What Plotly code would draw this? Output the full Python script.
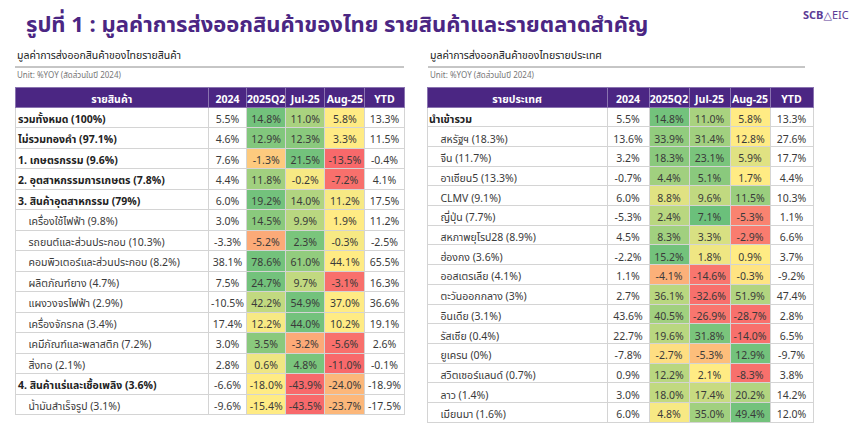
import plotly.graph_objects as go

W, H = 852, 430   # page body has an 8px margin, so the plot occupies 852x430 of the 860x438 window
OFF = 8           # reference pixel -> figure pixel offset


def px(x):
    return (x - OFF) / W


def py(y):
    return 1 - (y - OFF) / H


# ---------------- data: left table (by product) ----------------
left_labels = [
    "รวมทั้งหมด (100%)", "ไม่รวมทองคำ (97.1%)", "1. เกษตรกรรม (9.6%)",
    "2. อุตสาหกรรมการเกษตร (7.8%)", "3. สินค้าอุตสาหกรรม (79%)",
    "เครื่องใช้ไฟฟ้า (9.8%)", "รถยนต์และส่วนประกอบ (10.3%)",
    "คอมพิวเตอร์และส่วนประกอบ (8.2%)", "ผลิตภัณฑ์ยาง (4.7%)",
    "แผงวงจรไฟฟ้า (2.9%)", "เครื่องจักรกล (3.4%)",
    "เคมีภัณฑ์และพลาสติก (7.2%)", "สิ่งทอ (2.1%)",
    "4. สินค้าแร่และเชื้อเพลิง (3.6%)", "น้ำมันสำเร็จรูป (3.1%)",
]
left_2024 = [5.5, 4.6, 7.6, 4.4, 6.0, 3.0, -3.3, 38.1, 7.5, -10.5, 17.4, 3.0, 2.8, -6.6, -9.6]
left_q2 = [14.8, 12.9, -1.3, 11.8, 19.2, 14.5, -5.2, 78.6, 24.7, 42.2, 12.2, 3.5, 0.6, -18.0, -15.4]
left_jul = [11.0, 12.3, 21.5, -0.2, 14.0, 9.9, 2.3, 61.0, 9.7, 54.9, 44.0, -3.2, 4.8, -43.9, -43.5]
left_aug = [5.8, 3.3, -13.5, -7.2, 11.2, 1.9, -0.3, 44.1, -3.1, 37.0, 10.2, -5.6, -11.0, -24.0, -23.7]
left_ytd = [13.3, 11.5, -0.4, 4.1, 17.5, 11.2, -2.5, 65.5, 16.3, 36.6, 19.1, 2.6, -0.1, -18.9, -17.5]

# ---------------- data: right table (by market) ----------------
right_labels = [
    "นำเข้ารวม", "สหรัฐฯ (18.3%)", "จีน (11.7%)", "อาเซียน5 (13.3%)",
    "CLMV (9.1%)", "ญี่ปุ่น (7.7%)", "สหภาพยุโรป28 (8.9%)", "ฮ่องกง (3.6%)",
    "ออสเตรเลีย (4.1%)", "ตะวันออกกลาง (3%)", "อินเดีย (3.1%)",
    "รัสเซีย (0.4%)", "ยูเครน (0%)", "สวิตเซอร์แลนด์ (0.7%)",
    "ลาว (1.4%)", "เมียนมา (1.6%)",
]
right_2024 = [5.5, 13.6, 3.2, -0.7, 6.0, -5.3, 4.5, -2.2, 1.1, 2.7, 43.6, 22.7, -7.8, 0.9, 3.0, 6.0]
right_q2 = [14.8, 33.9, 18.3, 4.4, 8.8, 2.4, 8.3, 15.2, -4.1, 36.1, 40.5, 19.6, -2.7, 12.2, 18.0, 4.8]
right_jul = [11.0, 31.4, 23.1, 5.1, 9.6, 7.1, 3.3, 1.8, -14.6, -32.6, -26.9, 31.8, -5.3, 2.1, 17.4, 35.0]
right_aug = [5.8, 12.8, 5.9, 1.7, 11.5, -5.3, -2.9, 0.9, -0.3, 51.9, -28.7, -14.0, 12.9, -8.3, 20.2, 49.4]
right_ytd = [13.3, 27.6, 17.7, 4.4, 10.3, 1.1, 6.6, 3.7, -9.2, 47.4, 2.8, 6.5, -9.7, 3.8, 14.2, 12.0]

col_names = ["2024", "2025Q2", "Jul-25", "Aug-25", "YTD"]

# ---------------- style: heat tone per cell (-1 red .. 0 yellow .. 1 green) ----------------
left_tone_q2 = [0.9, 0.8, -0.25, 0.6, 0.9, 0.75, -0.5, 0.9, 0.9, 0.4, 0.05, 0.75, 0.1, 0.0, 0.0]
left_tone_jul = [0.55, 0.75, 0.9, 0.05, 0.5, 0.45, 0.85, 0.7, 0.4, 0.9, 0.9, -0.5, 0.85, -1.0, -1.0]
left_tone_aug = [0.0, 0.0, -1.0, -0.95, 0.05, 0.0, 0.05, 0.0, -0.95, 0.0, 0.0, -0.95, -1.0, -0.4, -0.4]
left_bold = [True, True, True, True, True, False, False, False, False, False, False, False, False, True, False]

right_tone_q2 = [0.9, 0.7, 0.75, 0.6, 0.2, 0.45, 0.6, 0.9, -0.45, 0.45, 0.6, 0.45, -0.1, 0.45, 0.4, 0.05]
right_tone_jul = [0.55, 0.6, 0.85, 0.75, 0.4, 0.95, 0.25, 0.1, -0.9, -0.95, -0.9, 0.85, -0.35, 0.0, 0.35, 0.6]
right_tone_aug = [0.0, 0.0, 0.2, 0.0, 0.65, -0.8, -0.85, 0.0, -0.05, 0.5, -0.95, -0.95, 0.9, -0.95, 0.5, 0.9]
right_bold = [True] + [False] * 15

PURPLE = "#4b2683"
TEXT = "#3a3a3a"
GRID = "#d4d4d4"
CLEAR = "rgba(0,0,0,0)"
FONT = "Tahoma, 'Noto Sans Thai', 'Noto Sans', 'DejaVu Sans', sans-serif"

RED = (248, 105, 107)
YEL = (255, 235, 132)
GRN = (99, 190, 123)


def tone_color(t):
    t = max(-1.0, min(1.0, t))
    if t < 0:
        a, b, f = YEL, RED, -t
    else:
        a, b, f = YEL, GRN, t
    c = [round(a[i] + (b[i] - a[i]) * f) for i in range(3)]
    return "rgb(%d,%d,%d)" % tuple(c)


def nb(s):
    return s.replace(" ", "\u00a0")


def make_tables(labels, v24, q2, jul, aug, ytd, tq2, tjul, taug, bold,
                head, x0, x1, top, widths, rowh, bold_shift):
    n = len(labels)
    white = ["white"] * n
    fills = [white, white,
             [tone_color(t) for t in tq2],
             [tone_color(t) for t in tjul],
             [tone_color(t) for t in taug],
             white]
    plain = ["" if b else "\u00a0\u00a0" + nb(l) for l, b in zip(labels, bold)]
    strong = [nb(l) if b else "" for l, b in zip(labels, bold)]
    base = go.Table(
        domain=dict(x=[px(x0), px(x1)], y=[0, py(top)]),
        columnwidth=widths,
        header=dict(
            values=[head] + col_names,
            fill_color=PURPLE,
            line=dict(color="#8a74b0", width=1),
            font=dict(color="white", size=10.5, family=FONT, weight="bold"),
            align="center",
            height=20,
        ),
        cells=dict(
            values=[plain, v24, q2, jul, aug, ytd],
            format=["", ".1f", ".1f", ".1f", ".1f", ".1f"],
            suffix=["", "%", "%", "%", "%", "%"],
            fill_color=fills,
            line=dict(color=GRID, width=1),
            font=dict(color=TEXT, size=10.5, family=FONT),
            align=["left", "center", "center", "center", "center", "center"],
            height=rowh,
        ),
    )
    lab_w = widths[0] / sum(widths) * (x1 - x0)
    over = go.Table(
        domain=dict(x=[px(x0 - bold_shift), px(x0 + lab_w - bold_shift)], y=[0, py(top)]),
        header=dict(values=[""], fill_color=CLEAR, line=dict(color=CLEAR, width=0), height=20),
        cells=dict(
            values=[strong],
            fill_color=CLEAR,
            line=dict(color=CLEAR, width=0),
            font=dict(color="#222222", size=10.5, family=FONT, weight="bold"),
            align="left",
            height=rowh,
        ),
    )
    return [base, over]


fig = go.Figure()
for tr in make_tables(left_labels, left_2024, left_q2, left_jul, left_aug, left_ytd,
                      left_tone_q2, left_tone_jul, left_tone_aug, left_bold,
                      "รายสินค้า", 15, 404, 87, [193, 38, 39, 39, 40, 39], 20.5, 5):
    fig.add_trace(tr)
for tr in make_tables(right_labels, right_2024, right_q2, right_jul, right_aug, right_ytd,
                      right_tone_q2, right_tone_jul, right_tone_aug, right_bold,
                      "รายประเทศ", 427, 813, 87, [180, 42, 40, 41, 40, 43], 19.7, 6):
    fig.add_trace(tr)

annotations = [
    dict(text="<b>รูปที่ 1 : มูลค่าการส่งออกสินค้าของไทย รายสินค้าและรายตลาดสำคัญ</b>",
         x=px(24), y=py(25), xanchor="left", yanchor="middle",
         font=dict(size=22, color=PURPLE, family=FONT)),
    dict(text="<b>SCB</b>△EIC", x=px(851), y=py(15), xanchor="right", yanchor="middle",
         font=dict(size=11, color="#5b3a95", family=FONT)),
    dict(text="มูลค่าการส่งออกสินค้าของไทยรายสินค้า", x=px(15), y=py(56),
         xanchor="left", yanchor="middle", font=dict(size=10.5, color="#222222", family=FONT)),
    dict(text="Unit: %YOY (สัดส่วนในปี 2024)", x=px(15), y=py(76),
         xanchor="left", yanchor="middle", font=dict(size=8, color="#777777", family=FONT)),
    dict(text="มูลค่าการส่งออกสินค้าของไทยรายประเทศ", x=px(428), y=py(56),
         xanchor="left", yanchor="middle", font=dict(size=10.5, color="#222222", family=FONT)),
    dict(text="Unit: %YOY (สัดส่วนในปี 2024)", x=px(428), y=py(76),
         xanchor="left", yanchor="middle", font=dict(size=8, color="#777777", family=FONT)),
]
for a in annotations:
    a.update(xref="paper", yref="paper", showarrow=False)

shapes = [
    dict(type="line", xref="paper", yref="paper", x0=px(15), x1=px(404),
         y0=py(67), y1=py(67), line=dict(color="#8c8c8c", width=1)),
    dict(type="line", xref="paper", yref="paper", x0=px(428), x1=px(805),
         y0=py(67), y1=py(67), line=dict(color="#8c8c8c", width=1)),
]

fig.update_layout(
    width=W, height=H,
    margin=dict(l=0, r=0, t=0, b=0),
    paper_bgcolor="white", plot_bgcolor="white",
    annotations=annotations, shapes=shapes,
    font=dict(family=FONT),
)

fig.write_html("out.html")
